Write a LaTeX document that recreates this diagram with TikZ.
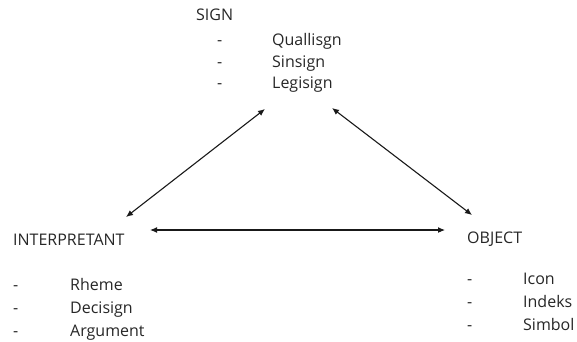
\documentclass[tikz,border=0pt]{standalone}
\usepackage{fontspec}
\setmainfont{Open Sans}
\usetikzlibrary{arrows.meta}
\begin{document}
\begin{tikzpicture}[x=1pt,y=1pt,every node/.style={anchor=base west,inner sep=0pt,font=\fontsize{16}{18}\selectfont,text=black!85}]
  \useasboundingbox (0,0) rectangle (577,341);
  % top corner
  \node (sign) at (196,320) {SIGN};
  \node (s1d) at (217,296) {-};
  \node (s1) at (272,296) {Quallisgn};
  \node (s2d) at (217,274) {-};
  \node (s2) at (272,274) {Sinsign};
  \node (s3d) at (217,253) {-};
  \node (s3) at (272,253) {Legisign};
  % left corner
  \node (interp) at (13,96) {INTERPRETANT};
  \node (i1d) at (13,51) {-};
  \node (i1) at (70,51) {Rheme};
  \node (i2d) at (13,28) {-};
  \node (i2) at (70,28) {Decisign};
  \node (i3d) at (13,5) {-};
  \node (i3) at (70,5) {Argument};
  % right corner
  \node (obj) at (467,98) {OBJECT};
  \node (o1d) at (467,57) {-};
  \node (o1) at (523,57) {Icon};
  \node (o2d) at (467,34) {-};
  \node (o2) at (523,34) {Indeks};
  \node (o3d) at (467,11) {-};
  \node (o3) at (523,11) {Simbol};
  % arrow ends
  \coordinate (signL) at (265,232);
  \coordinate (signR) at (332,233);
  \coordinate (interpT) at (126,124);
  \coordinate (interpR) at (150,111);
  \coordinate (objT) at (472,126);
  \coordinate (objL) at (445,111);
  \draw[line width=1.1pt,black!90,{Latex[length=7pt,width=6pt]}-{Latex[length=7pt,width=6pt]}] (interpT) -- (signL);
  \draw[line width=1.1pt,black!90,{Latex[length=7pt,width=6pt]}-{Latex[length=7pt,width=6pt]}] (signR) -- (objT);
  \draw[line width=1.1pt,black!90,{Latex[length=7pt,width=6pt]}-{Latex[length=7pt,width=6pt]}] (interpR) -- (objL);
\end{tikzpicture}
\end{document}
